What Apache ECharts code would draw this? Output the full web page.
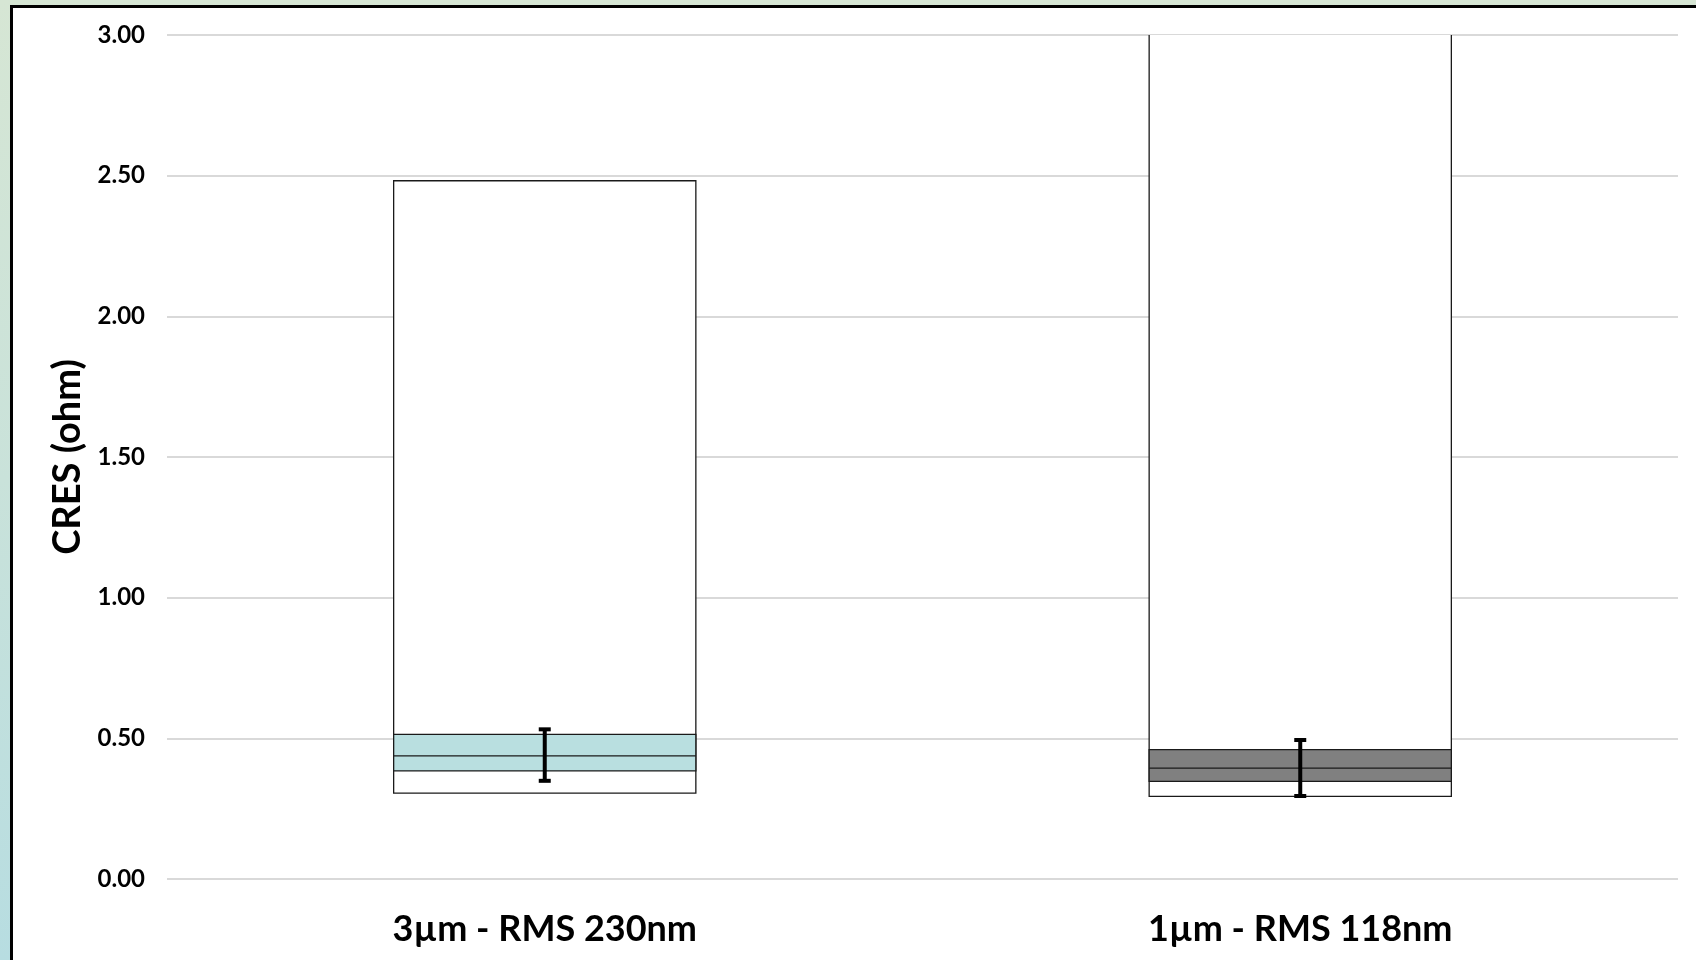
<!DOCTYPE html>
<html>
<head>
<meta charset="utf-8">
<script src="https://cdn.jsdelivr.net/npm/echarts@6/dist/echarts.min.js"></script>
<style>
  html, body { margin: 0; padding: 0; width: 1696px; height: 960px; overflow: hidden;
    background: linear-gradient(180deg, #d6e6d4 0%, #c9e2da 50%, #b7dde1 100%); }
  #frame { position: absolute; left: 10px; top: 5px; width: 1686px; height: 955px;
    border-left: 3px solid #000; border-top: 3px solid #000; background: #fff; box-sizing: border-box; }
  #chart { width: 100%; height: 100%; }
</style>
</head>
<body>
<div id="frame"><div id="chart"></div></div>
<script>
// ---- data ----
const categories = ['3µm - RMS 230nm', '1µm - RMS 118nm'];
const minVals    = [0.305, 0.294];
const q1Vals     = [0.384, 0.347];
const medianVals = [0.438, 0.394];
const q3Vals     = [0.514, 0.460];
const maxVals    = [2.482, 3.300];
const errLow     = [0.349, 0.295];
const errHigh    = [0.532, 0.494];
const bandColors = ['#b9dfe0', '#808080'];
const yTicks = { min: 0, max: 3, interval: 0.5 };

const boxData = categories.map((c, i) => [i, minVals[i], q1Vals[i], medianVals[i], q3Vals[i], maxVals[i]]);
const errData = categories.map((c, i) => [i, errLow[i], errHigh[i]]);

const chart = echarts.init(document.getElementById('chart'), null, { renderer: 'canvas' });
const FONT = 'Lato, "Open Sans", sans-serif';

chart.setOption({
  animation: false,
  backgroundColor: '#fff',
  grid: { left: 154, right: 18, top: 27, bottom: 81, containLabel: false },
  xAxis: {
    type: 'category',
    data: categories,
    axisLine: { show: false },
    axisTick: { show: false },
    axisLabel: { fontFamily: FONT, fontWeight: 'bold', fontSize: 36, color: '#000', margin: 32 }
  },
  yAxis: {
    type: 'value',
    min: yTicks.min, max: yTicks.max, interval: yTicks.interval,
    name: 'CRES (ohm)',
    nameLocation: 'middle',
    nameGap: 79,
    nameTextStyle: { fontFamily: FONT, fontWeight: 'bold', fontSize: 38, color: '#000' },
    axisLine: { show: false },
    axisTick: { show: false },
    axisLabel: { fontFamily: FONT, fontWeight: 'bold', fontSize: 24, color: '#000', margin: 22,
      formatter: v => v.toFixed(2) },
    splitLine: { lineStyle: { color: '#d9d9d9', width: 2 } }
  },
  series: [
    {
      type: 'custom',
      clip: true,
      data: boxData,
      encode: { x: 0, y: [1, 2, 3, 4, 5] },
      renderItem: function (params, api) {
        const i = api.value(0);
        const bw = api.size([1, 0])[0] * 0.4;
        const pMin = api.coord([i, api.value(1)]);
        const pQ1 = api.coord([i, api.value(2)]);
        const pMed = api.coord([i, api.value(3)]);
        const pQ3 = api.coord([i, api.value(4)]);
        const pMax = api.coord([i, api.value(5)]);
        const x0 = pMin[0] - bw / 2;
        const stroke = { stroke: '#1a1a1a', lineWidth: 1.3 };
        return {
          type: 'group',
          children: [
            { type: 'rect', shape: { x: x0, y: pMax[1], width: bw, height: pMin[1] - pMax[1] },
              style: Object.assign({ fill: '#fff' }, stroke) },
            { type: 'rect', shape: { x: x0, y: pQ3[1], width: bw, height: pQ1[1] - pQ3[1] },
              style: Object.assign({ fill: bandColors[i] }, stroke) },
            { type: 'line', shape: { x1: x0, y1: pMed[1], x2: x0 + bw, y2: pMed[1] }, style: stroke }
          ]
        };
      }
    },
    {
      type: 'custom',
      clip: true,
      data: errData,
      encode: { x: 0, y: [1, 2] },
      z: 5,
      renderItem: function (params, api) {
        const i = api.value(0);
        const lo = api.coord([i, api.value(1)]);
        const hi = api.coord([i, api.value(2)]);
        const cw = 12;
        const st = { stroke: '#000', lineWidth: 4 };
        return {
          type: 'group',
          children: [
            { type: 'line', shape: { x1: lo[0], y1: lo[1], x2: hi[0], y2: hi[1] }, style: st },
            { type: 'line', shape: { x1: lo[0] - cw / 2, y1: lo[1], x2: lo[0] + cw / 2, y2: lo[1] }, style: st },
            { type: 'line', shape: { x1: hi[0] - cw / 2, y1: hi[1], x2: hi[0] + cw / 2, y2: hi[1] }, style: st }
          ]
        };
      }
    }
  ]
});
</script>
</body>
</html>
